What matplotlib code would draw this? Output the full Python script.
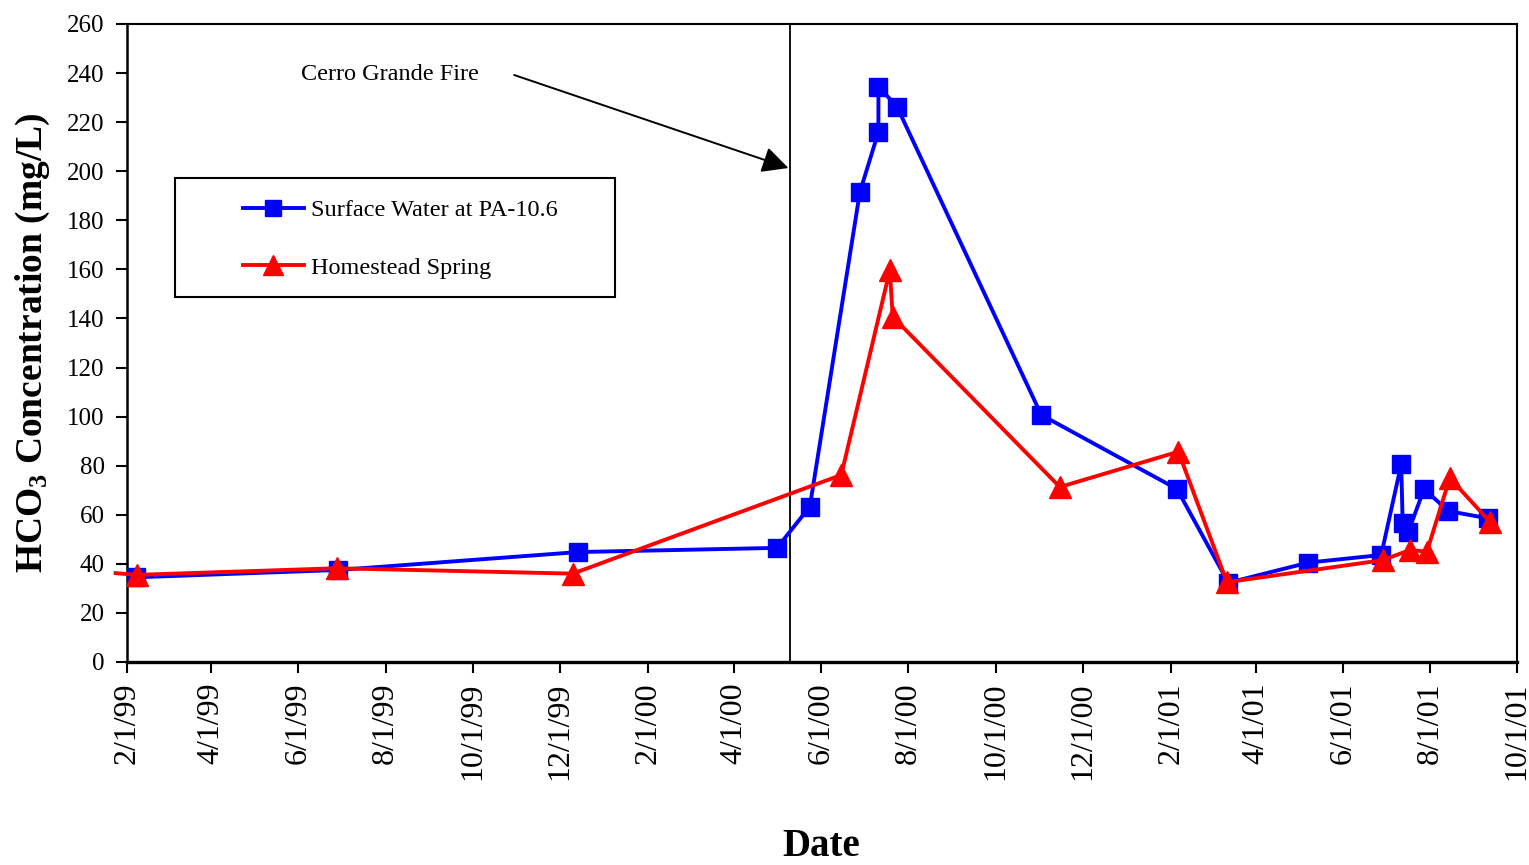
import matplotlib
matplotlib.use("Agg")
import matplotlib.pyplot as plt
import pandas as pd
from matplotlib.lines import Line2D
from matplotlib.patches import Rectangle

plt.rcParams['font.family'] = ['Liberation Serif', 'DejaVu Serif']
plt.rcParams['mathtext.fontset'] = 'custom'
plt.rcParams['mathtext.rm'] = 'Liberation Serif:bold'
plt.rcParams['mathtext.default'] = 'rm'

# ---------------- data ----------------
blue_dates = ['1999-02-07', '1999-06-29', '1999-12-14', '2000-05-01', '2000-05-24',
              '2000-06-28', '2000-07-11', '2000-07-11', '2000-07-24', '2000-11-02',
              '2001-02-05', '2001-03-13', '2001-05-08', '2001-06-28', '2001-07-12',
              '2001-07-13', '2001-07-17', '2001-07-28', '2001-08-14', '2001-09-11']
blue_values = [34.5, 37.5, 44.8, 46.5, 63.3,
               191.4, 216.0, 234.5, 226.3, 100.7,
               70.5, 32.3, 40.5, 43.6, 80.6,
               56.8, 53.1, 70.5, 61.5, 58.5]

red_lead_date = '1999-01-24'
red_lead_value = 36.2
red_dates = ['1999-02-08', '1999-06-28', '1999-12-10', '2000-06-15', '2000-07-19',
             '2000-07-21', '2000-11-15', '2001-02-06', '2001-03-12', '2001-06-29',
             '2001-07-18', '2001-07-30', '2001-08-15', '2001-09-12']
red_values = [35.5, 38.2, 36.0, 76.2, 159.7,
              140.7, 71.3, 85.7, 32.5, 41.5,
              45.6, 45.0, 75.0, 57.2]

series_names = ['Surface Water at PA-10.6', 'Homestead Spring']
fire_date = '2000-05-10'
fire_label = 'Cerro Grande Fire'

tick_dates = ['1999-02-01', '1999-04-01', '1999-06-01', '1999-08-01', '1999-10-01',
              '1999-12-01', '2000-02-01', '2000-04-01', '2000-06-01', '2000-08-01',
              '2000-10-01', '2000-12-01', '2001-02-01', '2001-04-01', '2001-06-01',
              '2001-08-01', '2001-10-01']
tick_labels = ['2/1/99', '4/1/99', '6/1/99', '8/1/99', '10/1/99', '12/1/99',
               '2/1/00', '4/1/00', '6/1/00', '8/1/00', '10/1/00', '12/1/00',
               '2/1/01', '4/1/01', '6/1/01', '8/1/01', '10/1/01']
y_ticks = list(range(0, 261, 20))

# ---------------- plot ----------------
BLUE = '#0000FF'
RED = '#FF0000'

fig = plt.figure(figsize=(15.29, 8.65), dpi=100)
ax = fig.add_axes([0.0831, 0.2347, 0.9090, 0.7376])

bd = pd.to_datetime(blue_dates)
rd = pd.to_datetime(red_dates)
rd_all = pd.to_datetime([red_lead_date] + red_dates)
rv_all = [red_lead_value] + red_values

ax.plot(bd, blue_values, color=BLUE, lw=2.8, marker='s', ms=13.5,
        mfc=BLUE, mec=BLUE, zorder=3)
ax.plot(rd_all, rv_all, color=RED, lw=2.8, zorder=4, clip_on=False)
ax.plot(rd, red_values, ls='none', marker='^', ms=16, mfc=RED, mec=RED, zorder=5)

fd = pd.Timestamp(fire_date)
ax.axvline(fd, color='black', lw=1.3, zorder=2)

ax.annotate('', xy=(pd.Timestamp('2000-05-09'), 201.3),
            xytext=(pd.Timestamp('1999-10-30'), 239.2),
            arrowprops=dict(arrowstyle='-|>', color='black', lw=1.4,
                            mutation_scale=40, shrinkA=0, shrinkB=0))
ax.text(pd.Timestamp('1999-08-04'), 239.5, fire_label, ha='center', va='center',
        fontsize=17.5)

ax.set_xlim(pd.Timestamp(tick_dates[0]), pd.Timestamp(tick_dates[-1]))
ax.set_ylim(0, 260)
ax.set_xticks(pd.to_datetime(tick_dates))
ax.set_xticklabels(tick_labels, rotation=90)
ax.set_yticks(y_ticks)

ax.tick_params(axis='both', direction='out', length=8, width=1.5, colors='black')
ax.tick_params(axis='y', labelsize=18, pad=8)
ax.tick_params(axis='x', labelsize=23, pad=7)

for side in ['top', 'right']:
    ax.spines[side].set_linewidth(1.5)
ax.spines['left'].set_linewidth(1.8)
ax.spines['bottom'].set_linewidth(2.4)

ax.set_ylabel(r'HCO$_3$ Concentration (mg/L)', fontsize=27, fontweight='bold')
ax.yaxis.set_label_coords(-0.054, 0.5)
fig.text(821 / 1529, 1 - 846 / 865, 'Date', ha='center', va='center',
         fontsize=28, fontweight='bold')

# legend box
ax.add_patch(Rectangle((0.0345, 0.572), 0.3165, 0.1866, transform=ax.transAxes,
                       facecolor='white', edgecolor='black', lw=1.5, zorder=6))
handles = [Line2D([], [], color=BLUE, lw=2.8, marker='s', ms=12),
           Line2D([], [], color=RED, lw=2.8, marker='^', ms=14)]
leg = ax.legend(handles, series_names, loc='center left',
                bbox_to_anchor=(0.0835, 0.663), frameon=False, fontsize=17.5,
                handlelength=2.5, handletextpad=0.3, labelspacing=1.45,
                borderpad=0, borderaxespad=0)
leg.set_zorder(7)

fig.savefig('out.png', dpi=100)
